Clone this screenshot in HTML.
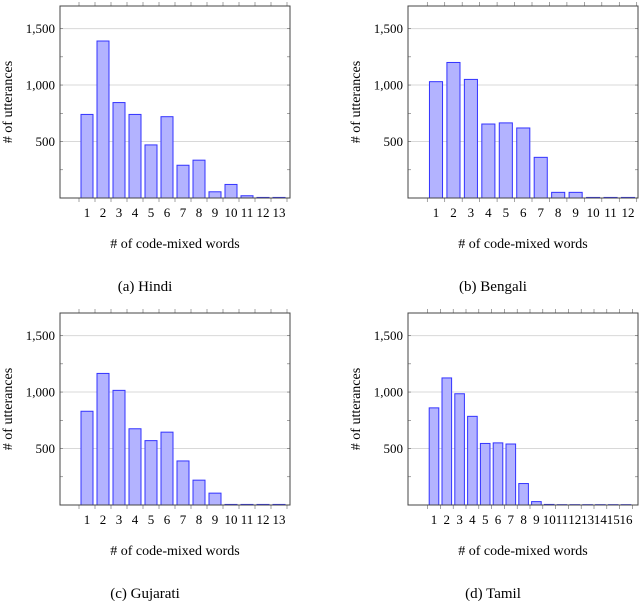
<!DOCTYPE html>
<html><head><meta charset="utf-8">
<style>
body{margin:0;background:#fff;width:640px;height:601px;overflow:hidden}
svg text{font-family:"Liberation Serif",serif;fill:#000}
</style></head>
<body>
<svg id="chart" width="640" height="601" xmlns="http://www.w3.org/2000/svg"></svg>
<script>
const hindiValues=[740,1390,845,740,470,720,290,335,55,120,20,5,5];
const bengaliValues=[1030,1200,1050,655,665,620,360,50,50,5,5,5];
const gujaratiValues=[830,1165,1015,675,570,645,390,220,105,5,5,5,5];
const tamilValues=[860,1125,985,785,545,550,540,190,30,5,3,3,3,3,3,3];
const yTicks=[500,1000,1500];
const yTickLabels=["500","1,000","1,500"];
const captions=["(a) Hindi","(b) Bengali","(c) Gujarati","(d) Tamil"];
const xTitle="# of code-mixed words";
const yTitle="# of utterances";
const Y_MAX=1700;

const svg=document.getElementById('chart');
const NS='http://www.w3.org/2000/svg';
function mk(tag,attrs,parent){const e=document.createElementNS(NS,tag);for(const k in attrs)e.setAttribute(k,attrs[k]);(parent||svg).appendChild(e);return e;}

const panels=[
 {vals:hindiValues,L:60,R:290,T:6,B:198,c1:87,cN:279,key:'hindi'},
 {vals:bengaliValues,L:408,R:638,T:6,B:198,c1:436,cN:628,key:'bengali'},
 {vals:gujaratiValues,L:60,R:290,T:313,B:505,c1:87,cN:279,key:'gujarati'},
 {vals:tamilValues,L:408,R:638,T:313,B:505,c1:434,cN:626,key:'tamil'}
];

panels.forEach((p,pi)=>{
 const g=mk('g',{});
 
 
 const n=p.vals.length;
 const step=(p.cN-p.c1)/(n-1);
 const xs=i=>p.c1+i*step;
 const ys=v=>p.B-v*(p.B-p.T)/Y_MAX;
 yTicks.forEach((t,i)=>{
  const gl=mk('line',{x1:p.L,x2:p.R,y1:ys(t),y2:ys(t),stroke:'#d8d8d8','stroke-width':1},g);
  
  
  const tl=mk('text',{x:p.L-5,y:ys(t)+4.5,'text-anchor':'end','font-size':13},g);
  tl.textContent=yTickLabels[i];
  
  
 });
 for(let v=250;v<Y_MAX;v+=250){
  mk('line',{x1:p.L,x2:p.L+3,y1:ys(v),y2:ys(v),stroke:'#666','stroke-width':0.6},g);
  mk('line',{x1:p.R-3,x2:p.R,y1:ys(v),y2:ys(v),stroke:'#666','stroke-width':0.6},g);
 }
 for(let i=0;i<=n;i++){
  const x=xs(i)-step/2;
  mk('line',{x1:x,x2:x,y1:p.B,y2:p.B+4,stroke:'#666','stroke-width':0.6},g);
  mk('line',{x1:x,x2:x,y1:p.T-4,y2:p.T,stroke:'#666','stroke-width':0.6},g);
 }
 const bw=step*0.75;
 p.vals.forEach((v,i)=>{
  const y=ys(v);
  const b=mk('rect',{x:xs(i)-bw/2,y:y,width:bw,height:p.B-y,fill:'#b3b3ff',stroke:'#3333ff','stroke-width':1},g);
  
  
  const xl=mk('text',{x:xs(i),y:p.B+19,'text-anchor':'middle','font-size':13},g);
  xl.textContent=String(i+1);
  
  
 });
 const box=mk('rect',{x:p.L,y:p.T,width:p.R-p.L,height:p.B-p.T,fill:'none',stroke:'#444','stroke-width':1},g);
 
 
 const cx=(p.L+p.R)/2;
 const xt=mk('text',{x:cx,y:p.B+50,'text-anchor':'middle','font-size':14},g);
 xt.textContent=xTitle;
 
 
 const yx=p.L-48, yy=(p.T+p.B)/2;
 const yt=mk('text',{x:yx,y:yy,'text-anchor':'middle','font-size':14,transform:`rotate(-90 ${yx} ${yy})`},g);
 yt.textContent=yTitle;
 
 
 const cap=mk('text',{x:cx-30,y:p.B+93,'text-anchor':'middle','font-size':15},g);
 cap.textContent=captions[pi];
 
 
});
</script>
</body></html>
